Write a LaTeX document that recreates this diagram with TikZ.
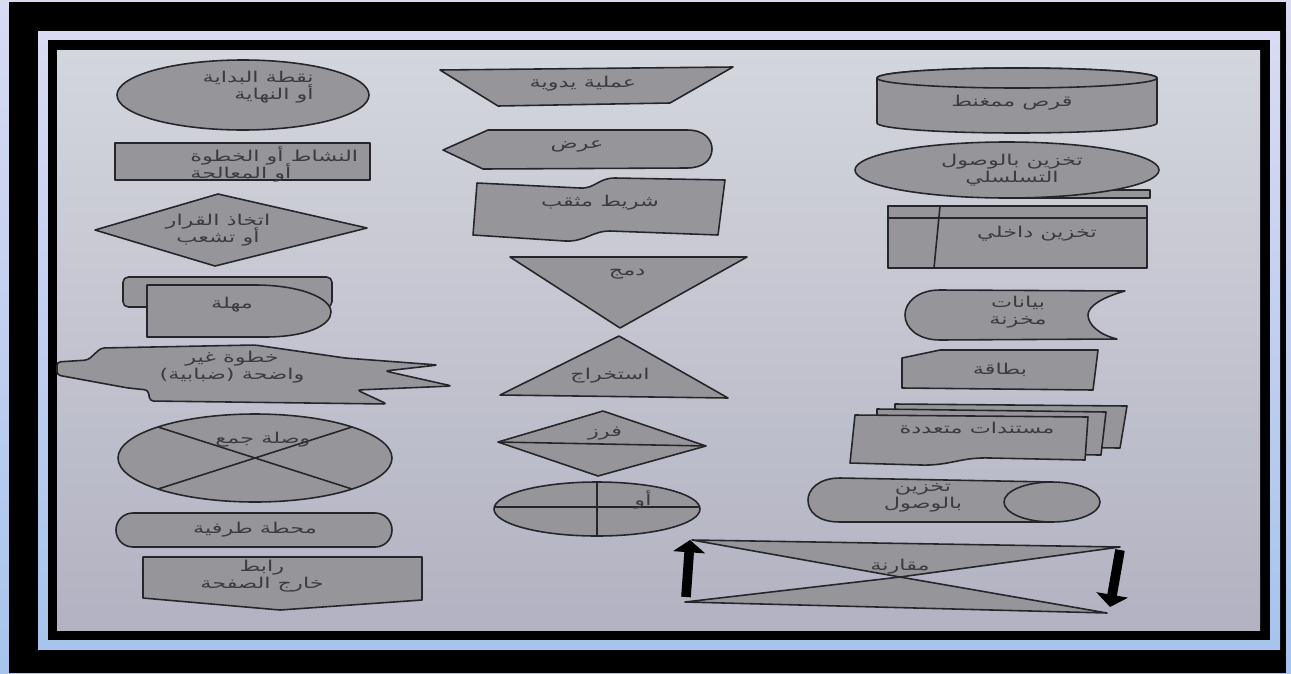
\documentclass[tikz,border=0pt]{standalone}
\usepackage{fontspec}
\usetikzlibrary{arrows.meta}
\newfontfamily\arabicfont[Script=Arabic, FakeStretch=1.5]{DejaVu Sans}
\TeXXeTstate=1

\definecolor{pagetop}{RGB}{212,214,221}
\definecolor{pagebot}{RGB}{178,178,194}
\definecolor{lavtop}{RGB}{218,218,243}
\definecolor{lavbot}{RGB}{166,196,236}
\definecolor{shapegray}{RGB}{150,150,154}
\definecolor{ink}{RGB}{38,38,42}

\newcommand{\artxt}[1]{\beginR #1\endR}

\tikzset{
  shp/.style={fill=shapegray, draw=ink, line width=0.9pt, line join=round},
  lbl/.style={font=\arabicfont\fontsize{8.5}{9.6}\selectfont,
    execute at begin node={\setlength{\lineskiplimit}{-20pt}},
    text=ink!90, inner sep=0pt, align=center},
  xline/.style={draw=ink, line width=0.9pt},
  bigarrow/.style={draw=black, line width=5.5pt, -{Triangle[length=7pt,width=18pt]}}
}

\begin{document}
\begin{tikzpicture}[x=0.02cm, y=-0.02cm]
  % frame and page
  \shade[top color=lavtop, bottom color=lavbot] (0,0) rectangle (1291,673);
  \fill[black] (9,2) rectangle (1286,673);
  \shade[top color=lavtop, bottom color=lavbot] (38,31) rectangle (1280,649);
  \fill[black] (48,40) rectangle (1270,640);
  \shade[top color=pagetop, bottom color=pagebot] (57,50) rectangle (1260,630);
  \useasboundingbox (0,0) rectangle (1291,673);

  % left column
  \draw[shp] (243,95) ellipse [x radius=126, y radius=35];
  \node[lbl, align=right, anchor=east] (startlbl) at (314,87)
    {\artxt{نقطة البداية}\\\artxt{أو النهاية}};

  \draw[shp] (115,143) rectangle (370,180);
  \node[lbl, align=left, anchor=west] (proclbl) at (190,164)
    {\artxt{النشاط أو الخطوة}\\\artxt{أو المعالجة}};

  \draw[shp] (95,230) -- (218,194) -- (367,228) -- (215,266) -- cycle;
  \node[lbl] (decidelbl) at (218,230) {\artxt{اتخاذ القرار}\\\artxt{أو تشعب}};

  \draw[shp, rounded corners=3pt] (123,277) rectangle (332,307);
  \draw[shp] (147,285) -- (255,285) .. controls (300,285) and (331,298) .. (331,312)
    .. controls (331,326) and (305,337) .. (265,337) -- (147,337) -- cycle;
  \node[lbl] (delaylbl) at (232,305) {\artxt{مهلة}};

  \draw[shp, rounded corners=2pt] (57,362) -- (88,360) -- (101,348) -- (255,345)
    -- (345,358) -- (438,365) -- (385,371) -- (452,386) -- (357,390) -- (387,404)
    -- (150,401) -- (148,390) -- (128,388) -- (57,375) -- cycle;
  \node[lbl] (fuzzylbl) at (232,367) {\artxt{خطوة غير}\\\artxt{واضحة (ضبابية)}};

  \coordinate (jc) at (255,458);
  \draw[shp] (jc) ellipse [x radius=137, y radius=44];
  \draw[xline] (jc) +(-97,-31) -- +(97,31);
  \draw[xline] (jc) +(-97,31) -- +(97,-31);
  \node[lbl] (junctionlbl) at (263,440) {\artxt{وصلة جمع}};

  \draw[shp, rounded corners=9.6pt] (116,513) rectangle (392,547);
  \node[lbl] (termlbl) at (255,530) {\artxt{محطة طرفية}};

  \draw[shp] (143,557) -- (422,557) -- (422,600) -- (280,610) -- (143,598) -- cycle;
  \node[lbl] (offpagelbl) at (262,576) {\artxt{رابط}\\\artxt{خارج الصفحة}};

  % middle column
  \draw[shp] (440,70) -- (733,67) -- (670,103) -- (498,106) -- cycle;
  \node[lbl] (manuallbl) at (583,84) {\artxt{عملية يدوية}};

  \draw[shp] (443,150) -- (488,130) -- (687,130) .. controls (705,130) and (712,140) .. (712,149)
    .. controls (712,160) and (703,168) .. (687,168) -- (483,169) -- cycle;
  \node[lbl] (displaylbl) at (577,146) {\artxt{عرض}};

  \draw[shp] (477,183) -- (580,188) .. controls (595,189) and (598,178) .. (615,178)
    -- (725,180) -- (718,235) -- (610,231) .. controls (592,231) and (585,242) .. (565,241)
    -- (473,235) -- cycle;
  \node[lbl] (tapelbl) at (600,203) {\artxt{شريط مثقب}};

  \draw[shp] (510,257) -- (747,257) -- (620,328) -- cycle;
  \node[lbl] (mergelbl) at (627,274) {\artxt{دمج}};

  \draw[shp] (619,336) -- (728,398) -- (500,395) -- cycle;
  \node[lbl] (extractlbl) at (610,376) {\artxt{استخراج}};

  \draw[shp] (498,442) -- (603,411) -- (706,446) -- (598,476) -- cycle;
  \draw[xline] (498,442) -- (706,446);
  \node[lbl] (sortlbl) at (605,434) {\artxt{فرز}};

  \coordinate (oc) at (597,509);
  \draw[shp] (oc) ellipse [x radius=103, y radius=27];
  \draw[xline] (oc) +(0,-27) -- +(0,27);
  \draw[xline] (oc) +(-103,-2) -- +(103,-2);
  \node[lbl] (orlbl) at (643,500) {\artxt{أو}};

  % right column
  \draw[shp] (877,78) -- (877,123) arc[start angle=180, end angle=0, x radius=140, y radius=10]
    -- (1157,78) arc[start angle=0, end angle=-180, x radius=140, y radius=10] -- cycle;
  \draw[shp] (1017,78) ellipse [x radius=140, y radius=10];
  \node[lbl] (disklbl) at (1012,103) {\artxt{قرص ممغنط}};

  \draw[shp] (1007,190) rectangle (1150,198);
  \draw[shp] (1007,170) ellipse [x radius=152, y radius=28];
  \node[lbl] (seqlbl) at (1012,170) {\artxt{تخزين بالوصول}\\\artxt{التسلسلي}};

  \draw[shp] (888,206) rectangle (1147,268);
  \draw[xline] (940,206) -- (934,268);
  \draw[xline] (888,218) -- (1147,218);
  \node[lbl] (internallbl) at (1037,234) {\artxt{تخزين داخلي}};

  \draw[shp] (940,290) -- (1125,291) .. controls (1100,298) and (1088,307) .. (1088,315)
    .. controls (1088,325) and (1100,335) .. (1117,339) -- (940,340)
    .. controls (918,340) and (905,328) .. (905,315) .. controls (905,302) and (918,290) .. (940,290) -- cycle;
  \node[lbl] (storedlbl) at (1018,312) {\artxt{بيانات}\\\artxt{مخزنة}};

  \draw[shp] (902,388) -- (902,358) -- (940,350) -- (1098,350) -- (1093,390) -- cycle;
  \node[lbl] (cardlbl) at (1000,370) {\artxt{بطاقة}};

  \draw[shp] (895,404) -- (1127,406) -- (1120,448) -- (895,446) -- cycle;
  \draw[shp] (877,409) -- (1106,412) -- (1101,455) -- (877,453) -- cycle;
  \draw[shp] (855,415) -- (1088,417) -- (1085,460) -- (990,458)
    .. controls (960,457) and (950,466) .. (920,465) -- (850,463) -- cycle;
  \node[lbl] (docslbl) at (977,428) {\artxt{مستندات متعددة}};

  \draw[shp] (1052,482) -- (840,478) .. controls (818,478) and (808,490) .. (808,500)
    .. controls (808,512) and (818,522) .. (840,522) -- (1052,522) -- cycle;
  \draw[shp] (1052,502) ellipse [x radius=48, y radius=20];
  \node[lbl] (directlbl) at (923,498) {\artxt{تخزين}\\\artxt{بالوصول}};

  \draw[shp] (692,540) -- (1120,547) -- (900,577) -- cycle;
  \draw[shp] (685,602) -- (1107,613) -- (900,577) -- cycle;
  \node[lbl] (collatelbl) at (900,567) {\artxt{مقارنة}};

  \coordinate (upfoot) at (686,597);
  \coordinate (uptip) at (690,540);
  \coordinate (downfoot) at (1120,550);
  \coordinate (downtip) at (1110,607);
  \draw[bigarrow] (upfoot) -- (uptip);
  \draw[bigarrow] (downfoot) -- (downtip);
\end{tikzpicture}
\end{document}
